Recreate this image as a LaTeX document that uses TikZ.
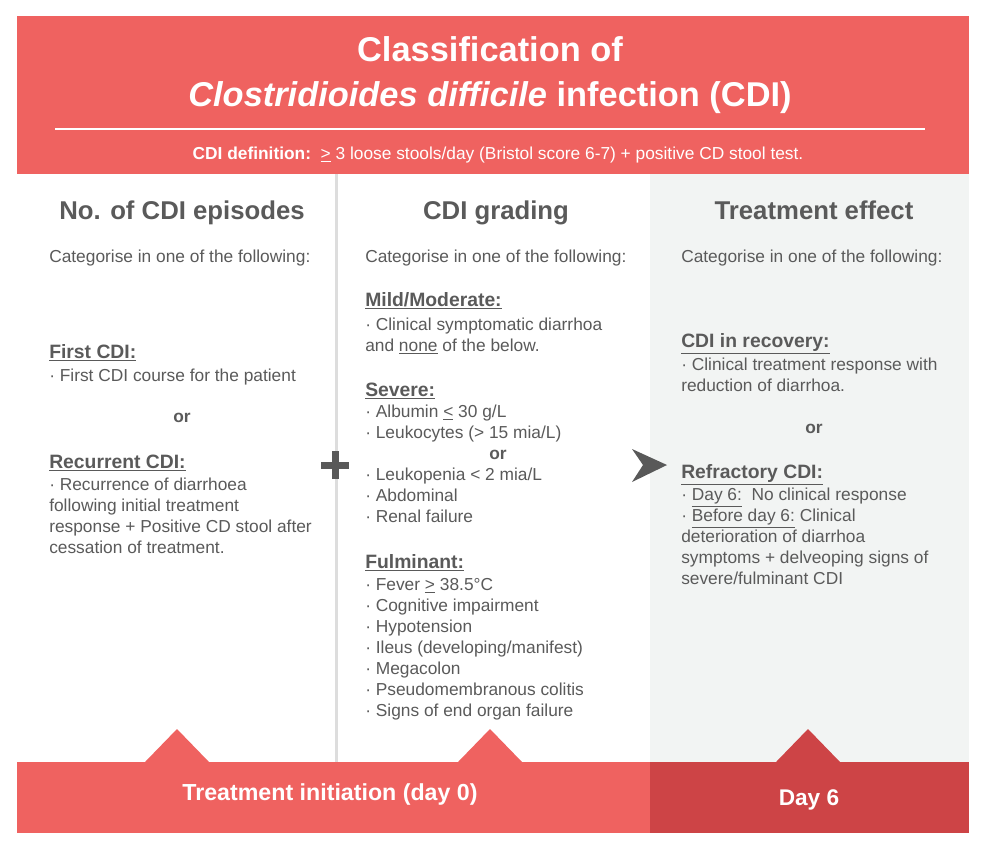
\documentclass[tikz,border=0pt]{standalone}
\usepackage{fontspec}
\setmainfont{Liberation Sans}
\newcommand{\sh}[1]{{\fontsize{14.5}{15}\selectfont\bfseries\underline{#1}}}
\begin{document}
\begin{tikzpicture}[x=0.75pt,y=-0.75pt,
  tx/.style={anchor=base west,inner sep=0pt,text=txtgray,font=\fontsize{13}{15}\selectfont},
  txc/.style={anchor=base,inner sep=0pt,text=txtgray,font=\fontsize{13}{15}\selectfont\bfseries},
  head/.style={anchor=base,inner sep=0pt,text=txtgray,font=\fontsize{19.3}{22}\selectfont\bfseries},
  wt/.style={inner sep=0pt,text=white}]
\definecolor{hred}{HTML}{EF6260}
\definecolor{dred}{HTML}{CD4446}
\definecolor{txtgray}{HTML}{5A5A5A}
\definecolor{lgray}{HTML}{F2F4F3}
\definecolor{sepgray}{HTML}{DDDDDD}
\definecolor{markgray}{HTML}{595959}
\useasboundingbox (0,0) rectangle (981,847);
\fill[white] (0,0) rectangle (981,847);
% header
\fill[hred] (17,16) rectangle (969,174);
\node[wt,anchor=base,font=\fontsize{25.8}{30}\selectfont\bfseries] (t1) at (490,61) {Classification of};
\node[wt,anchor=base,font=\fontsize{25.8}{30}\selectfont\bfseries] (t2) at (490,106) {\textit{Clostridioides difficile} infection (CDI)};
\draw[white,line width=1.2pt] (55,129) -- (925,129);
\node[wt,anchor=base,font=\fontsize{13}{15}\selectfont] (def) at (498,159.5) {\textbf{CDI definition:}\ \ \underline{>} 3 loose stools/day (Bristol score 6-7) + positive CD stool test.};
% columns
\fill[lgray] (650,174) rectangle (969,762);
\fill[sepgray] (335,174) rectangle (338,762);
% bottom
\fill[hred] (17,762) rectangle (650,833);
\fill[dred] (650,762) rectangle (969,833);
\fill[hred] (145,762) -- (177,729) -- (209,762) -- cycle;
\fill[hred] (458,762) -- (490,729) -- (522,762) -- cycle;
\fill[dred] (776,762) -- (808,729) -- (840,762) -- cycle;
\node[wt,anchor=base,font=\fontsize{17.4}{20}\selectfont\bfseries] (b1) at (330,800) {Treatment initiation (day 0)};
\node[wt,anchor=base,font=\fontsize{17}{20}\selectfont\bfseries] (b2) at (809,805) {Day 6};
% plus and arrow
\fill[markgray] (321,461.5) rectangle (349,468.5);
\fill[markgray] (331.5,451) rectangle (338.5,479);
\fill[markgray] (632,449) -- (667,465) -- (632,482) -- (643,465) -- cycle;
% headings
\node[head] (h1) at (182,219) {No. of CDI episodes};
\node[head] (h2) at (496,219) {CDI grading};
\node[head] (h3) at (814,219) {Treatment effect};
% column 1
\foreach \y/\t [count=\i] in {256/{Categorise in one of the following:},352/{\sh{First CDI:}},375/{· First CDI course for the patient},462/{\sh{Recurrent CDI:}},484/{· Recurrence of diarrhoea},505/{following initial treatment},526/{response + Positive CD stool after},547/{cessation of treatment.}}
  \node[tx] (a\i) at (49,\y+6.5) {\t};
\node[txc] (aor) at (182,422.5) {or};
% column 2
\foreach \y/\t [count=\i] in {256/{Categorise in one of the following:},300/{\sh{Mild/Moderate:}},324/{· Clinical symptomatic diarrhoa},345/{and \underline{none} of the below.},390/{\sh{Severe:}},411/{· Albumin \underline{<} 30 g/L},432/{· Leukocytes (> 15 mia/L)},474/{· Leukopenia < 2 mia/L},495/{· Abdominal},516/{· Renal failure},562/{\sh{Fulminant:}},584/{· Fever \underline{>} 38.5°C},605/{· Cognitive impairment},626/{· Hypotension},647/{· Ileus (developing/manifest)},668/{· Megacolon},689/{· Pseudomembranous colitis},710/{· Signs of end organ failure}}
  \node[tx] (c\i) at (365,\y+6.5) {\t};
\node[txc] (cor) at (498,459.5) {or};
% column 3
\foreach \y/\t [count=\i] in {256/{Categorise in one of the following:},341/{\sh{CDI in recovery:}},364/{· Clinical treatment response with},385/{reduction of diarrhoa.},472/{\sh{Refractory CDI:}},494/{· \underline{Day 6:}\ \ No clinical response},515/{· \underline{Before day 6:} Clinical},536/{deterioration of diarrhoa},557/{symptoms + delveoping signs of},578/{severe/fulminant CDI}}
  \node[tx] (e\i) at (681,\y+6.5) {\t};
\node[txc] (eor) at (814,433.5) {or};
\end{tikzpicture}
\end{document}
